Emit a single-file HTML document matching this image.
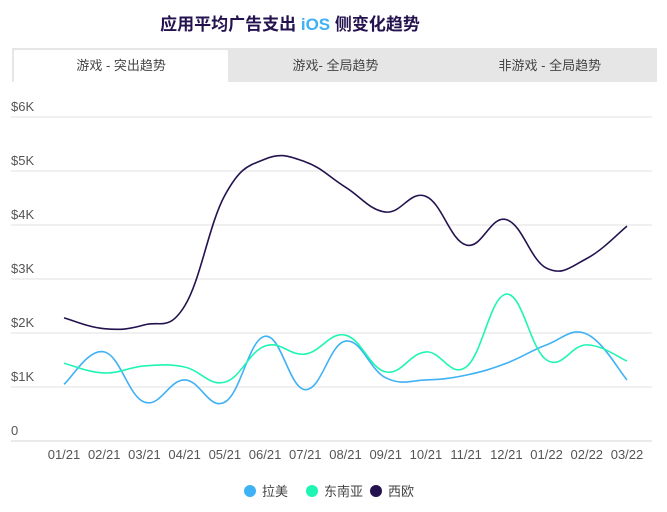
<!DOCTYPE html>
<html><head><meta charset="utf-8"><style>
body{margin:0;width:667px;height:512px;background:#fff;font-family:"Liberation Sans","Noto Sans CJK SC",sans-serif;overflow:hidden;position:relative}
.title{position:absolute;top:10px;left:0;width:580px;text-align:center;font-size:17px;font-weight:bold;color:#24124f}
.tabs{position:absolute;left:12px;top:48px;width:645px;height:34px;background:#e6e6e6;display:flex}
.tab{flex:1;text-align:center;line-height:36px;font-size:13px;color:#444}
.tab.active{background:#fff;margin:2px 0 0 2px;line-height:32px;border-radius:2px 2px 0 0}
</style></head><body>
<div class="title">应用平均广告支出 <span style="color:#3fb1f5">iOS</span> 侧变化趋势</div>
<div class="tabs">
<div class="tab active">游戏 - 突出趋势</div>
<div class="tab">游戏- 全局趋势</div>
<div class="tab">非游戏 - 全局趋势</div>
</div>
<svg id="chart" width="667" height="512" style="position:absolute;left:0;top:0"></svg>
<script>
const categories=["01/21","02/21","03/21","04/21","05/21","06/21","07/21","08/21","09/21","10/21","11/21","12/21","01/22","02/22","03/22"];
const latam=[1.05,1.65,0.72,1.13,0.72,1.94,0.95,1.85,1.17,1.13,1.22,1.44,1.78,1.98,1.13];
const sea=[1.44,1.26,1.39,1.37,1.09,1.76,1.61,1.96,1.28,1.65,1.37,2.72,1.5,1.78,1.48];
const weu=[2.28,2.08,2.15,2.5,4.55,5.22,5.17,4.7,4.24,4.53,3.63,4.1,3.2,3.38,3.98];
const yTicks=[0,1,2,3,4,5,6];
const yTickLabels=["0","$1K","$2K","$3K","$4K","$5K","$6K"];
const seriesNames=["拉美","东南亚","西欧"];
const colors=["#3fb1f5","#1ff5b3","#24124f"];
const NS="http://www.w3.org/2000/svg",svg=document.getElementById('chart');
const x=i=>64+i*(627-64)/(categories.length-1);
const y=v=>441-v*54;
function mk(t,a){const e=document.createElementNS(NS,t);for(const k in a)e.setAttribute(k,a[k]);svg.appendChild(e);return e;}
yTicks.forEach((t,i)=>{
 const l=mk('line',{x1:11,x2:652,y1:y(t),y2:y(t),stroke:t===0?'#ddd':'#e8e8e8','stroke-width':1.2});
 
 
 const tx=mk('text',{x:11,y:y(t)-6,'font-size':13,fill:'#555','font-family':'Liberation Sans'});
 tx.textContent=yTickLabels[i];
 
 
});
categories.forEach((c,i)=>{
 const tx=mk('text',{x:x(i),y:459,'font-size':13,fill:'#555','text-anchor':'middle','font-family':'Liberation Sans'});
 tx.textContent=c;
 
 
});
function path(vals){
 const p=vals.map((v,i)=>[x(i),y(v)]);let d='M'+p[0][0]+','+p[0][1];
 for(let i=0;i<p.length-1;i++){const p0=p[i-1]||p[i],p1=p[i],p2=p[i+1],p3=p[i+2]||p2;const t=0.2;
 d+=` C${p1[0]+(p2[0]-p0[0])*t},${p1[1]+(p2[1]-p0[1])*t} ${p2[0]-(p3[0]-p1[0])*t},${p2[1]-(p3[1]-p1[1])*t} ${p2[0]},${p2[1]}`;}
 return d;}
[latam,sea,weu].forEach((s,k)=>{
 const p=mk('path',{d:path(s),fill:'none',stroke:colors[k],'stroke-width':1.6});
 
 
});
const lx=[250,312,376];
seriesNames.forEach((n,k)=>{
 const c=mk('circle',{cx:lx[k],cy:491,r:6,fill:colors[k]});
 
 
 const t=mk('text',{x:lx[k]+12,y:496,'font-size':13,fill:'#444','font-family':'Liberation Sans, Noto Sans CJK SC, sans-serif'});
 t.textContent=n;
 
 
});
</script>
</body></html>
